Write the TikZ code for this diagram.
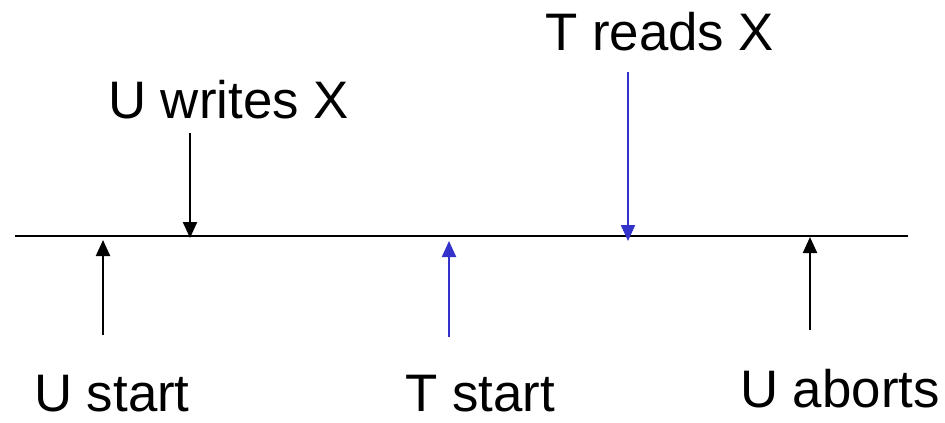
\documentclass[tikz,border=0pt]{standalone}
\usepackage{fontspec}
\setmainfont{Liberation Sans}
\usetikzlibrary{arrows.meta}
\definecolor{evblue}{RGB}{51,51,204}
\begin{document}
\begin{tikzpicture}[x=1bp,y=-1bp,
  lbl/.style={anchor=base west,inner sep=0pt,font=\fontsize{53}{60}\selectfont},
  tl/.style={line width=2.2bp},
  ev/.style={line width=2.2bp,-{Triangle[width=14bp,length=16bp]}},
  evb/.style={ev,evblue}]
\useasboundingbox (0,0) rectangle (945,422);
% timeline
\coordinate (L0) at (15,236);
\coordinate (L1) at (908,236);
\draw[tl] (L0) -- (L1);
% U start
\coordinate (us0) at (103,335);
\coordinate (us1) at (103,240);
\draw[ev] (us0) -- (us1);
\node[lbl] (ustart) at (34,411) {U start};
% U writes X
\coordinate (uw0) at (190,133);
\coordinate (uw1) at (190,238);
\draw[ev] (uw0) -- (uw1);
\node[lbl] (uwrites) at (108,118) {U writes X};
% T start
\coordinate (ts0) at (449,337);
\coordinate (ts1) at (449,241);
\draw[evb] (ts0) -- (ts1);
\node[lbl] (tstart) at (405,411) {T start};
% T reads X
\coordinate (tr0) at (628,72);
\coordinate (tr1) at (628,241);
\draw[evb] (tr0) -- (tr1);
\node[lbl] (treads) at (545,50) {T reads X};
% U aborts
\coordinate (ua0) at (810,330);
\coordinate (ua1) at (810,237);
\draw[ev] (ua0) -- (ua1);
\node[lbl] (uaborts) at (740,407) {U aborts};
\end{tikzpicture}
\end{document}
